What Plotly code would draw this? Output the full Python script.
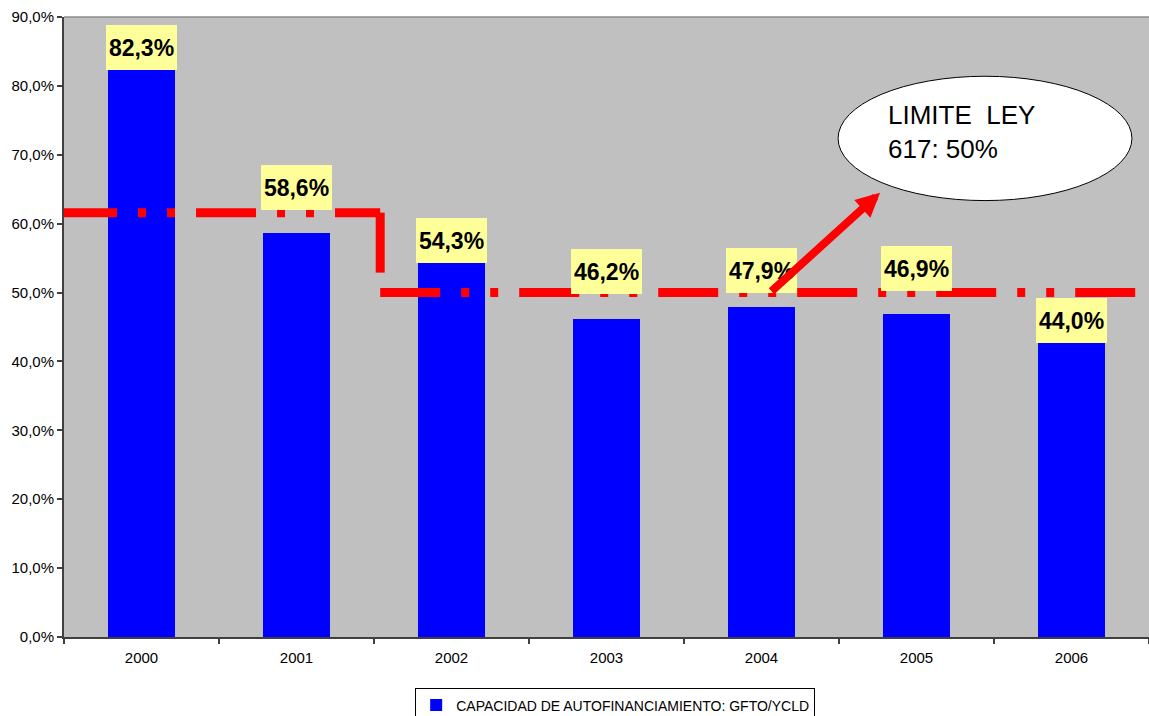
import plotly.graph_objects as go

# Capacidad de autofinanciamiento por año (GFTO/YCLD, en %)
years = ["2000", "2001", "2002", "2003", "2004", "2005", "2006"]
capacity = [82.3, 58.6, 54.3, 46.2, 47.9, 46.9, 44.0]

# Eje vertical: marcas cada 10 %
y_ticks = [0, 10, 20, 30, 40, 50, 60, 70, 80, 90]

# Límite legal: nivel inicial y nivel de la Ley 617 (50%)
limit_before = 61.6
limit_ley617 = 50.0

series_name = "CAPACIDAD DE AUTOFINANCIAMIENTO: GFTO/YCLD"
callout_text = "LIMITE  LEY<br>617: 50%"

FONT = "Arial, Liberation Sans, sans-serif"
x_idx = list(range(len(years)))


def pct(v):
    return f"{v:.1f}".replace(".", ",") + "%"


fig = go.Figure()

fig.add_trace(go.Bar(
    x=x_idx, y=capacity, name=series_name,
    marker=dict(color="#0000FF", line=dict(width=0)),
    width=0.43, showlegend=True,
))

# Línea escalonada del límite (tres tramos con el mismo patrón de guiones)
step_x = 1.54
lim_x = [-0.545, step_x, None, step_x, step_x, None, step_x, 6.43]
lim_y = [limit_before, limit_before, None, limit_before, limit_ley617, None,
         limit_ley617, limit_ley617]
fig.add_trace(go.Scatter(
    x=lim_x, y=lim_y, mode="lines", connectgaps=False, showlegend=False,
    line=dict(color="#FF0000", width=9, dash="60px,21px,8px,21px,8px,21px"),
    hoverinfo="skip",
))

# Etiquetas de valor sobre cada barra (desplazamiento vertical en px)
label_lift = [0, 23, 0, 25, 14, 23, -9]
for i, v in enumerate(capacity):
    fig.add_annotation(
        x=i, y=v, xref="x", yref="y",
        text="<b>" + pct(v) + "</b>",
        showarrow=False, yanchor="bottom", xanchor="center",
        yshift=label_lift[i], width=71, height=45,
        bgcolor="#FFFF99", borderpad=0, borderwidth=0,
        font=dict(family=FONT, size=23, color="#000000"),
        align="center", valign="middle",
    )

# Globo con el texto del límite
fig.add_shape(
    type="circle", xref="x", yref="y",
    x0=4.494, x1=6.39, y0=63.35, y1=81.4,
    fillcolor="#FFFFFF", line=dict(color="#000000", width=1), layer="above",
)
fig.add_annotation(
    x=4.80, y=73.3, xref="x", yref="y", text=callout_text,
    showarrow=False, xanchor="left", yanchor="middle", align="left",
    font=dict(family=FONT, size=26, color="#000000"),
)

# Flecha desde la línea del límite hacia el globo
fig.add_annotation(
    x=4.765, y=64.5, ax=4.055, ay=limit_ley617,
    xref="x", yref="y", axref="x", ayref="y",
    text="", showarrow=True, arrowhead=2, arrowsize=0.6,
    arrowwidth=8, arrowcolor="#FF0000", standoff=0, startstandoff=0,
)

# Borde superior del área de trazado
fig.add_shape(
    type="line", xref="paper", yref="paper", x0=0, x1=1, y0=1, y1=1,
    line=dict(color="#8C8C8C", width=1.5),
)

fig.update_layout(
    width=1149, height=716,
    margin=dict(l=64, r=0, t=17, b=79, autoexpand=False),
    paper_bgcolor="#FFFFFF", plot_bgcolor="#C0C0C0",
    font=dict(family=FONT, color="#000000"),
    bargap=0,
    showlegend=True,
    legend=dict(
        orientation="h", x=0.508, xanchor="center", y=-0.083, yanchor="top",
        bordercolor="#000000", borderwidth=1, bgcolor="#FFFFFF",
        font=dict(family=FONT, size=14, color="#000000"),
        itemwidth=30,
    ),
    xaxis=dict(
        range=[-0.5, 6.5], tickvals=x_idx, ticktext=years,
        ticks="", showgrid=False, zeroline=False,
        showline=True, linecolor="#404040", linewidth=2,
        tickfont=dict(family=FONT, size=15, color="#000000"),
        ticklabelstandoff=6,
        minor=dict(tickvals=[k + 0.5 for k in range(-1, 7)], ticks="outside",
                   ticklen=5, tickcolor="#404040", tickwidth=1.5,
                   showgrid=False),
        fixedrange=True,
    ),
    yaxis=dict(
        range=[0, 90], tickvals=y_ticks, ticktext=[pct(t) for t in y_ticks],
        ticks="outside", ticklen=5, tickcolor="#404040", tickwidth=1.5,
        showgrid=False, zeroline=False,
        showline=True, linecolor="#404040", linewidth=2,
        tickfont=dict(family=FONT, size=15, color="#000000"),
        fixedrange=True,
    ),
)

fig.write_html("out.html", config={"displayModeBar": False})
